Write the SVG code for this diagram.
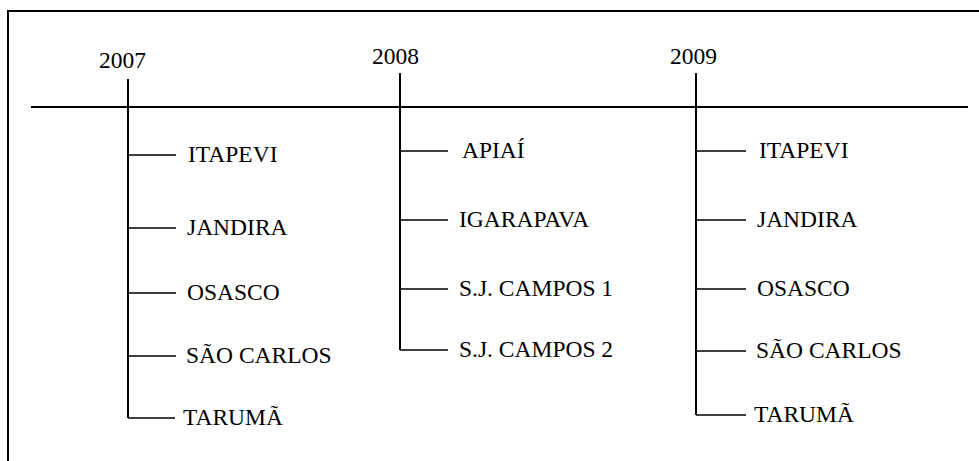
<svg xmlns="http://www.w3.org/2000/svg" width="979" height="461" viewBox="0 0 979 461">
<style>
.t{font-family:"Liberation Serif","Times New Roman",serif;font-size:23.5px;fill:#000}
.ax{stroke:#000;stroke-width:2;fill:none}
.br{stroke:#000;stroke-width:1.6;fill:none}
</style>
<rect x="0" y="0" width="979" height="461" fill="#fff"/>
<rect x="8" y="11" width="1000" height="500" fill="none" stroke="#000" stroke-width="2"/>
<g id="connectors">
<line class="ax" x1="31" y1="107" x2="968" y2="107"/>
<line class="ax" x1="128" y1="79" x2="128" y2="418"/>
<line class="br" x1="128" y1="155" x2="176" y2="155"/>
<line class="br" x1="128" y1="228" x2="176" y2="228"/>
<line class="br" x1="128" y1="293" x2="176" y2="293"/>
<line class="br" x1="128" y1="356" x2="176" y2="356"/>
<line class="br" x1="128" y1="418" x2="175" y2="418"/>
<line class="ax" x1="400" y1="73" x2="400" y2="350"/>
<line class="br" x1="400" y1="151" x2="448" y2="151"/>
<line class="br" x1="400" y1="220" x2="448" y2="220"/>
<line class="br" x1="400" y1="289" x2="448" y2="289"/>
<line class="br" x1="400" y1="350" x2="448" y2="350"/>
<line class="ax" x1="696" y1="73" x2="696" y2="415"/>
<line class="br" x1="696" y1="151" x2="746" y2="151"/>
<line class="br" x1="696" y1="220" x2="746" y2="220"/>
<line class="br" x1="696" y1="289" x2="746" y2="289"/>
<line class="br" x1="696" y1="351" x2="746" y2="351"/>
<line class="br" x1="696" y1="415" x2="746" y2="415"/>
</g>
<g id="y2007"><text class="t" x="99" y="68">2007</text></g>
<g id="y2008"><text class="t" x="372" y="64">2008</text></g>
<g id="y2009"><text class="t" x="670" y="64">2009</text></g>
<g id="n2007-itapevi"><text class="t" x="188" y="162">ITAPEVI</text></g>
<g id="n2007-jandira"><text class="t" x="187" y="235">JANDIRA</text></g>
<g id="n2007-osasco"><text class="t" x="187" y="300">OSASCO</text></g>
<g id="n2007-saocarlos"><text class="t" x="186" y="363">SÃO CARLOS</text></g>
<g id="n2007-taruma"><text class="t" x="183" y="425">TARUMÃ</text></g>
<g id="n2008-apiai"><text class="t" x="462" y="158">APIAÍ</text></g>
<g id="n2008-igarapava"><text class="t" x="459" y="227">IGARAPAVA</text></g>
<g id="n2008-sjc1"><text class="t" x="459" y="296">S.J. CAMPOS 1</text></g>
<g id="n2008-sjc2"><text class="t" x="459" y="357">S.J. CAMPOS 2</text></g>
<g id="n2009-itapevi"><text class="t" x="759" y="158">ITAPEVI</text></g>
<g id="n2009-jandira"><text class="t" x="757" y="227">JANDIRA</text></g>
<g id="n2009-osasco"><text class="t" x="757" y="296">OSASCO</text></g>
<g id="n2009-saocarlos"><text class="t" x="756" y="358">SÃO CARLOS</text></g>
<g id="n2009-taruma"><text class="t" x="754" y="422">TARUMÃ</text></g>
</svg>
